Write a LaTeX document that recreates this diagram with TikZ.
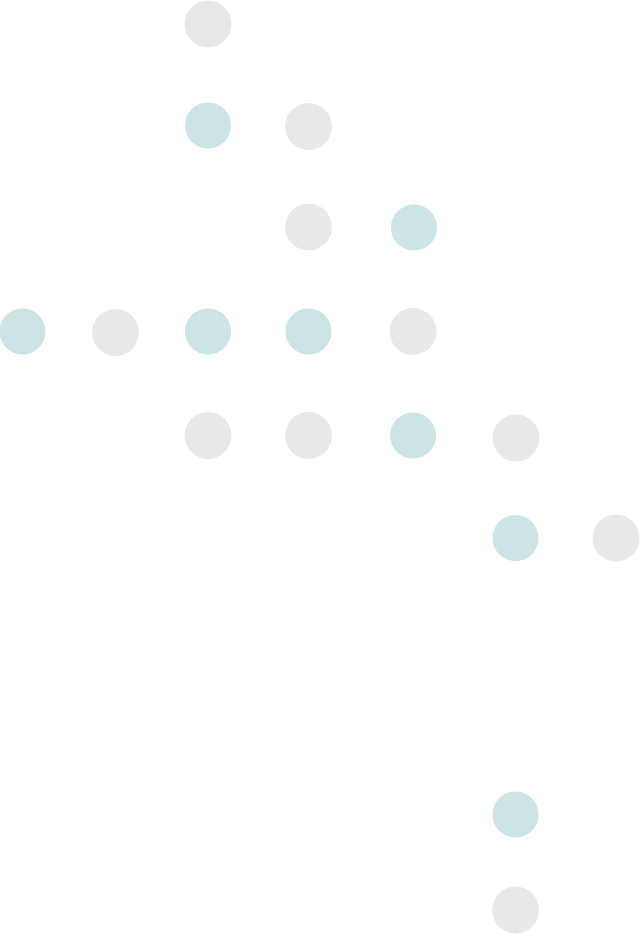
\documentclass[tikz,border=0pt]{standalone}
\usepackage{tikz}

\definecolor{dotgray}{RGB}{232,232,232}
\definecolor{dotteal}{RGB}{205,228,230}

\tikzset{
  graydot/.style={circle,fill=dotgray,draw=none,inner sep=0pt,minimum size=1.17cm},
  tealdot/.style={circle,fill=dotteal,draw=none,inner sep=0pt,minimum size=1.15cm}
}

\begin{document}
\begin{tikzpicture}[x=0.025cm,y=-0.025cm]
\useasboundingbox (0,0) rectangle (640,934);

\node[graydot] (a1) at (208,24) {};

\node[tealdot] (b1) at (208,125.5) {};
\node[graydot] (b2) at (308.5,126.5) {};

\node[graydot] (c1) at (308.5,227) {};
\node[tealdot] (c2) at (414,227.5) {};

\node[tealdot] (d1) at (22.5,331.5) {};
\node[graydot] (d2) at (115.5,332.5) {};
\node[tealdot] (d3) at (208,331.5) {};
\node[tealdot] (d4) at (308.5,331.5) {};
\node[graydot] (d5) at (413,331.5) {};

\node[graydot] (e1) at (208,435.5) {};
\node[graydot] (e2) at (308.5,435.5) {};
\node[tealdot] (e3) at (413,435.5) {};
\node[graydot] (e4) at (516,438) {};

\node[tealdot] (f1) at (515.5,538) {};
\node[graydot] (f2) at (616,538) {};

\node[tealdot] (g1) at (515.5,814.5) {};
\node[graydot] (h1) at (515.5,910) {};

\end{tikzpicture}
\end{document}
